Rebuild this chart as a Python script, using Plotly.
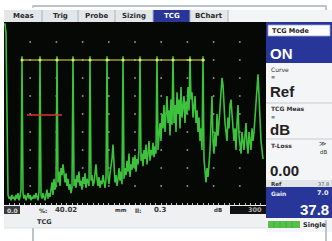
import numpy as np
import plotly.graph_objects as go

# ---------------- data ----------------
# A-scan amplitude (% full screen height), one sample per screen column
amp = [
    100, 100, 95, 30, 5, 3, 4, 2, 5, 3,
    4, 2, 5, 3, 6, 2, 4, 8, 82, 6,
    3, 5, 2, 4, 6, 3, 5, 2, 4, 3,
    5, 3, 6, 4, 2, 7, 82, 5, 3, 6,
    4, 2, 5, 8, 3, 6, 4, 9, 12, 5,
    14, 8, 10, 82, 12, 18, 10, 20, 16, 22,
    15, 12, 17, 10, 14, 8, 11, 6, 9, 82,
    10, 14, 9, 16, 12, 18, 10, 13, 8, 15,
    11, 17, 9, 14, 12, 10, 82, 13, 16, 10,
    12, 18, 22, 14, 10, 15, 9, 13, 11, 16,
    12, 9, 14, 82, 15, 11, 17, 20, 25, 33,
    18, 12, 16, 10, 14, 20, 13, 18, 11, 82,
    14, 20, 16, 24, 18, 28, 15, 22, 19, 26,
    20, 27, 18, 25, 22, 30, 82, 24, 28, 21,
    30, 25, 33, 22, 28, 35, 24, 30, 27, 34,
    26, 32, 28, 82, 30, 38, 45, 35, 50, 42,
    55, 40, 48, 60, 45, 52, 38, 58, 44, 82,
    45, 55, 40, 62, 50, 58, 42, 65, 48, 55,
    60, 45, 57, 50, 65, 52, 82, 58, 62, 48,
    55, 60, 45, 52, 40, 48, 35, 42, 30, 82,
    25, 18, 12, 20, 15, 22, 30, 45, 60, 35,
    28, 40, 32, 50, 38, 45, 55, 62, 70, 66,
    50, 45, 40, 35, 48, 42, 55, 58, 50, 40,
    35, 42, 30, 45, 55, 38, 32, 28, 40, 35,
    30, 38, 45, 33, 28, 40, 36, 30, 42, 35,
    40, 48, 55, 65, 72, 60, 45, 35, 30, 25,
]
X_STEP = 300 / 262
x_scan = np.arange(len(amp)) * X_STEP

tcg_x = [20.6, 41.2, 60.7, 79.0, 98.5, 117.9, 136.3, 155.7, 175.2, 193.5, 213.0, 227.9]
tcg_y = [80] * len(tcg_x)
tcg_line_x = [20.6, 230.2]
tcg_line_y = [80, 80]

gate_x = [26.3, 66.4]
gate_y = [49.4, 49.4]

grid_cols = [30, 60, 90, 120, 150, 180, 210, 240, 270]
grid_rows = [10, 20, 30, 40, 50, 60, 70, 80, 90]

tabs = ["Meas", "Trig", "Probe", "Sizing", "TCG", "BChart"]
active_tab = "TCG"

# ---------------- layout helpers ----------------
W, H = 332, 241


def fx(p):
    return p / W


def fy(p):
    return 1 - p / H


shapes = []
annotations = []


def rect(x0, y0, x1, y1, fill, line=None, lw=1, layer="below"):
    shapes.append(dict(type="rect", xref="paper", yref="paper",
                       x0=fx(x0), x1=fx(x1), y0=fy(y1), y1=fy(y0),
                       fillcolor=fill, layer=layer,
                       line=dict(color=line or fill, width=lw if line else 0)))


def hline(x0, x1, y, color, w=1):
    shapes.append(dict(type="line", xref="paper", yref="paper",
                       x0=fx(x0), x1=fx(x1), y0=fy(y), y1=fy(y),
                       line=dict(color=color, width=w)))


def vline(x, y0, y1, color, w=1):
    shapes.append(dict(type="line", xref="paper", yref="paper",
                       x0=fx(x), x1=fx(x), y0=fy(y0), y1=fy(y1),
                       line=dict(color=color, width=w)))


def text(x, y, s, size=7, color="#222", bold=False, anchor="left",
         family="DejaVu Sans"):
    annotations.append(dict(xref="paper", yref="paper", x=fx(x), y=fy(y),
                            text=f"<b>{s}</b>" if bold else s, showarrow=False,
                            xanchor=anchor, yanchor="middle",
                            font=dict(size=size, color=color, family=family)))


BLUE = "#28369a"
GREYLINE = "#b9c4cc"

# top bracket
hline(33, 326, 6, GREYLINE, 2)
vline(326, 5, 10, GREYLINE, 2)
vline(33, 5, 8, GREYLINE, 1.5)

# tab bar
rect(4, 10, 332, 22, "#f2f4f6")
rect(4, 10, 228, 22, "#e3e7ea")
tab_edges = [4, 42, 78, 115, 153, 190, 228]
for i, t in enumerate(tabs):
    x0, x1 = tab_edges[i], tab_edges[i + 1]
    if t == active_tab:
        rect(x0, 10, x1, 22, BLUE)
        text((x0 + x1) / 2, 16.5, t, 7, "#ffffff", True, "center")
    else:
        text((x0 + x1) / 2, 16.5, t, 7, "#2a2a2a", True, "center")
    vline(x1, 10, 22, "#aab4bc", 1)

# right panel
rect(266, 22, 332, 232, "#f4f5f6")
rect(266, 22, 332, 63, BLUE)
rect(268, 25, 330, 36, "#ffffff", "#9aa4c8", 0.8)
text(270, 30.5, "TCG Mode", 6.5, "#222", True)
text(268, 53, "ON", 15, "#ffffff", True, family="Liberation Sans")
text(269, 69, "Curve", 6, "#333")
text(269, 77, "≡", 5, "#333")
text(268, 91, "Ref", 15, "#222", True, family="Liberation Sans")
hline(266, 332, 103, "#c6ccd2", 1)
text(269, 109, "TCG Meas", 6, "#333", True)
text(269, 117, "≡", 5, "#333")
text(268, 129, "dB", 15, "#222", True, family="Liberation Sans")
hline(266, 332, 139, "#c6ccd2", 1)
text(269, 145, "T-Loss", 6, "#333", True)
text(328, 144, "≫", 7, "#333", False, "right")
text(329, 152, "dB", 5.5, "#333", False, "right")
text(268, 170, "0.00", 15, "#222", True, family="Liberation Sans")
rect(266, 180, 332, 187, "#e2e5e8")
text(269, 183.5, "Ref", 5.5, "#333", True)
text(331, 183.5, "37.8", 5, "#555", False, "right")
rect(266, 187, 332, 218, BLUE)
text(269, 193, "Gain", 6, "#e8ecff", True)
text(331, 193, "7.0", 6.5, "#e8ecff", True, "right")
text(331, 209, "37.8", 15, "#ffffff", True, "right", family="Liberation Sans")
rect(268, 221, 300, 228, "#56c04a")
for sx in [274, 280, 286, 292]:
    vline(sx, 221, 228, "#3d9a35", 0.6)
text(301, 224.5, "Single", 6.5, "#222", True)

# bottom status bar
rect(4, 205, 266, 228, "#eef0f2")
rect(4, 206, 20, 214, "#3a3a3a")
text(12, 210, "0.0", 6, "#dddddd", True, "center")
text(37, 210, "%:", 6, "#333", True)
text(53, 210, "40.02", 7, "#333", True)
text(113, 210, "mm", 5.5, "#333", True)
text(133, 210, "ll:", 6, "#333", True)
text(152, 210, "0.3", 7, "#333", True)
text(212, 210, "dB", 5.5, "#333", True)
rect(230, 206, 266, 214, "#111111")
text(264, 210, "300", 6.5, "#aaaaaa", True, "right")
text(35, 221.5, "TCG", 6.5, "#333", True)
hline(4, 266, 228, "#dde1e4", 1)

# bottom bracket lines
vline(33, 228, 241, GREYLINE, 2)
vline(326, 220, 241, GREYLINE, 2)

# ---------------- traces ----------------
gx, gy = np.meshgrid(grid_cols, grid_rows)
fig = go.Figure()
fig.add_trace(go.Scatter(x=gx.ravel(), y=gy.ravel(), mode="markers",
                         marker=dict(color="#8a8a8a", size=2), hoverinfo="skip"))
fig.add_trace(go.Scatter(x=x_scan, y=amp, mode="lines",
                         line=dict(color="#3cc23c", width=1.6), hoverinfo="skip"))
fig.add_trace(go.Scatter(x=tcg_line_x, y=tcg_line_y, mode="lines",
                         line=dict(color="#e8e04a", width=1.2), hoverinfo="skip"))
fig.add_trace(go.Scatter(x=tcg_x, y=tcg_y, mode="markers",
                         marker=dict(color="#f2ea50", size=3), hoverinfo="skip"))
fig.add_trace(go.Scatter(x=gate_x, y=gate_y, mode="lines",
                         line=dict(color="#e03030", width=1.5), hoverinfo="skip"))

fig.update_layout(
    width=W, height=H,
    margin=dict(l=0, r=0, t=0, b=0),
    paper_bgcolor="#ffffff",
    plot_bgcolor="#050805",
    showlegend=False,
    shapes=shapes,
    annotations=annotations,
    xaxis=dict(domain=[fx(4), fx(266)], range=[0, 300], showgrid=False,
               zeroline=False, showticklabels=False, ticks="inside",
               ticklen=2, tickcolor="#bbbbbb", dtick=6, tick0=0,
               showline=False, fixedrange=True),
    yaxis=dict(domain=[fy(205), fy(22)], range=[-0.56, 101.1], showgrid=False,
               zeroline=False, showticklabels=False, showline=False,
               fixedrange=True),
)

fig.write_html(
    "out.html",
    config={"displayModeBar": False},
    post_script="document.body.style.margin='0';document.body.style.overflow='hidden';",
)
